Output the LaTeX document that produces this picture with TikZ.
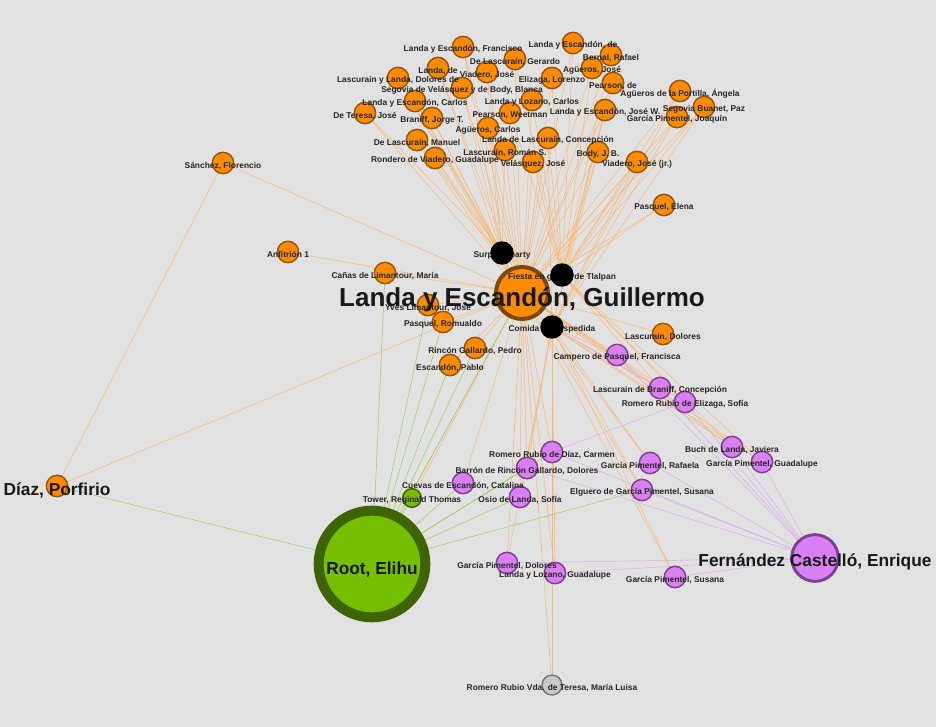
\documentclass[tikz,border=0pt]{standalone}
\usepackage{fontspec}
\setmainfont{Liberation Sans}
\pgfdeclarelayer{bglayer}
\pgfdeclarelayer{edgelayer}
\pgfsetlayers{bglayer,edgelayer,main}
\definecolor{bgc}{RGB}{225,225,225}
\definecolor{ofill}{RGB}{255,140,0}
\definecolor{oline}{RGB}{150,85,10}
\definecolor{pfill}{RGB}{218,128,245}
\definecolor{pline}{RGB}{125,65,145}
\definecolor{gfill}{RGB}{118,190,0}
\definecolor{gline}{RGB}{62,100,0}
\definecolor{grfill}{RGB}{200,200,200}
\definecolor{grline}{RGB}{120,120,120}
\definecolor{oedgec}{RGB}{248,182,112}
\definecolor{gedgec}{RGB}{150,205,80}
\definecolor{pedgec}{RGB}{215,170,235}
\newcommand\orangelist{fra/463/47/{Landa y Escandón, Francisco},
ger/515/59/{De Lascuraín, Gerardo},
lde/573/43/{Landa y Escandón, de},
ber/611/55/{Bernal, Rafael},
ajo/592/68/{Agüeros, José},
eli/552/78/{Elizaga, Lorenzo},
pde/613/83/{Pearson, de},
apa/680/91/{Agüeros de la Portilla, Ángela},
sbu/704/107/{Segovia Buanet, Paz},
gpj/677/117/{García Pimentel, Joaquín},
ljw/605/110/{Landa y Escandón, José W.},
llc/532/100/{Landa y Lozano, Carlos},
sdv/462/88/{Segovia de Velásquez y de Body, Blanca},
lad/438/68/{Landa, de},
vij/487/72/{Viadero, José},
lld/398/78/{Lascurain y Landa, Dolores de},
lec/415/101/{Landa y Escandón, Carlos},
dtj/365/113/{De Teresa, José},
bra/432/118/{Braniff, Jorge T.},
dlm/417/140/{De Lascuraín, Manuel},
rdv/435/158/{Rondero de Viadero, Guadalupe},
agc/488/128/{Agüeros, Carlos},
pwe/510/113/{Pearson, Weetman},
ldl/548/138/{Landa de Lascuraín, Concepción},
lrs/505/150/{Lascuraín, Román S.},
vel/533/162/{Velásquez, José},
bod/598/152/{Body, J. B.},
vjr/637/162/{Viadero, José (jr.)},
pel/664/205/{Pasquel, Elena},
san/223/163/{Sánchez, Florencio},
anf/288/252/{Anfitrión 1},
can/385/273/{Cañas de Limantour, María},
yli/428/305/{Yves Limantour, José},
pro/443/322/{Pasquel, Romualdo},
rgp/475/348/{Rincón Gallardo, Pedro},
esp/450/365/{Escandón, Pablo},
ldo/663/334/{Lascurain, Dolores}}
\newcommand\purplelist{cam/617/355/{Campero de Pasquel, Francisca},
lbc/660/388/{Lascurain de Braniff, Concepción},
rre/685/402/{Romero Rubio de Elizaga, Sofía},
buc/732/447/{Buch de Landa, Javiera},
gpg/762/462/{García Pimentel, Guadalupe},
gpr/650/463/{García Pimentel, Rafaela},
egp/642/490/{Elguero de García Pimentel, Susana},
rrd/552/452/{Romero Rubio de Díaz, Carmen},
bar/527/468/{Barrón de Rincón Gallardo, Dolores},
cue/463/483/{Cuevas de Escandón, Catalina},
osi/520/497/{Osio de Landa, Sofía},
gpd/507/563/{García Pimentel, Dolores},
llg/555/573/{Landa y Lozano, Guadalupe},
gps/675/577/{García Pimentel, Susana}}
\newcommand\eventlist{sp/502/253/{Surprise party},
fi/562/275/{Fiesta en granja de Tlalpan},
co/552/327/{Comida de despedida}}
\begin{document}
\begin{tikzpicture}[x=0.75pt,y=-0.75pt,
  base/.style={circle, inner sep=0pt, line width=1.1pt},
  onode/.style={base, fill=ofill, draw=oline, minimum size=16pt},
  pnode/.style={base, fill=pfill, draw=pline, minimum size=16pt},
  enode/.style={base, fill=black, draw=black, minimum size=16.5pt},
  gnode/.style={base, fill=gfill, draw=gline, minimum size=14pt},
  grnode/.style={base, fill=grfill, draw=grline, minimum size=15pt},
  lab/.style={font=\fontsize{6.3}{7}\selectfont\bfseries, text=black!85, inner sep=0pt, yshift=-2pt},
  biglab/.style={font=\fontsize{13}{15}\selectfont\bfseries, text=black!90, inner sep=0pt},
  oedge/.style={draw=oedgec, line width=0.35pt},
  gedge/.style={draw=gedgec, line width=0.35pt},
  pedge/.style={draw=pedgec, line width=0.35pt}]
\begin{pgfonlayer}{bglayer}
\fill[bgc] (0,0) rectangle (936,727);
\end{pgfonlayer}
\useasboundingbox (0,0) rectangle (936,727);
% nodes
\foreach \n/\x/\y/\lbl in \orangelist {\node[onode] (\n) at (\x,\y) {};}
\foreach \n/\x/\y/\lbl in \purplelist {\node[pnode] (\n) at (\x,\y) {};}
\node[base, fill=ofill, draw=oline!85!black, line width=3pt, minimum size=39pt] (hub) at (522,293) {};
\node[base, fill=ofill, draw=oline, minimum size=16pt] (dia) at (57,486) {};
\node[base, fill=gfill, draw=gline, line width=7.5pt, minimum size=80pt] (roo) at (372,564) {};
\node[gnode] (tow) at (412,498) {};
\node[base, fill=pfill, draw=pline, line width=2.2pt, minimum size=35pt] (fer) at (815,558) {};
\node[grnode] (rrv) at (552,685) {};
% labels
\foreach \n/\x/\y/\lbl in \orangelist {\node[lab] at (\n) {\lbl};}
\foreach \n/\x/\y/\lbl in \purplelist {\node[lab] at (\n) {\lbl};}
\foreach \n/\x/\y/\lbl in \eventlist {\node[lab] at (\x,\y) {\lbl};}
\node[lab] at (tow) {Tower, Reginald Thomas};
\node[lab] at (rrv) {Romero Rubio Vda. de Teresa, María Luisa};
% event nodes on top of their labels
\foreach \n/\x/\y/\lbl in \eventlist {\node[enode] (\n) at (\x,\y) {};}
\node[biglab, font=\fontsize{19.5}{22}\selectfont\bfseries] at ([yshift=-5pt]hub) {Landa y Escandón, Guillermo};
\node[biglab] at ([yshift=-3pt]fer) {Fernández Castelló, Enrique};
\node[biglab] at ([yshift=-3pt]dia) {Díaz, Porfirio};
\node[biglab] at ([yshift=-4pt]roo) {Root, Elihu};
% edges
\begin{pgfonlayer}{edgelayer}
\foreach \a in {fra,ger,lde,ber,ajo,eli,pde,apa,sbu,gpj,ljw,llc,sdv,lad,vij,lld,lec,dtj,bra,dlm,rdv,agc,pwe,ldl,lrs,vel,bod,vjr,pel,san,anf,can,yli,pro,rgp,esp,ldo,dia}
  {\draw[oedge] (\a) -- (hub);}
\foreach \a in {fra,lad,lld,lec,dtj,bra,dlm,rdv,agc,vij,sdv,lrs}
  {\draw[oedge] (\a) -- (sp);}
\foreach \a in {ger,lde,ber,ajo,eli,pde,apa,sbu,gpj,ljw,llc,pwe,ldl,vel,bod,vjr,pel}
  {\draw[oedge] (\a) -- (fi);}
\foreach \a in {apa,sbu,gpj,vjr,ljw,bod,ldl}
  {\draw[oedge] (\a) -- (co);}
\foreach \b in {cam,lbc,rre,buc,gpg,gpr,egp,rrd,bar,osi,gpd,llg,gps,rrv,cue,tow,roo}
  {\draw[oedge] (hub) -- (\b);}
\foreach \b in {cam,lbc,rre,buc,gpg,gpr,egp,gps,llg,gpd,rrd,bar,osi,rrv}
  {\draw[oedge] (co) -- (\b);}
\foreach \b in {lbc,rre,buc,gpg}
  {\draw[oedge] (fi) -- (\b);}
\draw[oedge] (san) -- (dia);
\foreach \b in {can,yli,pro,rgp,esp,hub,tow,cue,bar,osi,egp,rrd,dia}
  {\draw[gedge] (roo) -- (\b);}
\foreach \b in {cam,lbc,rre,buc,gpg,gpr,egp,gps,llg,gpd,rrd,bar}
  {\draw[pedge] (fer) -- (\b);}
\draw[pedge] (rrd) -- (rre);
\draw[pedge] (lbc) -- (co);
\end{pgfonlayer}
\end{tikzpicture}
\end{document}
